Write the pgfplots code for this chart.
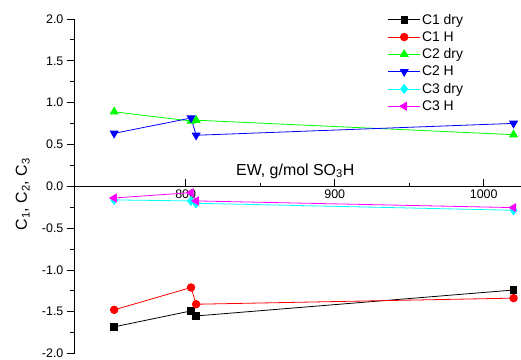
\documentclass[border=0pt]{standalone}
\usepackage{fontspec}
\setmainfont{Liberation Sans}
\usepackage{pgfplots}
\pgfplotsset{compat=1.18}
\definecolor{pcyan}{RGB}{0,255,255}
\definecolor{pmagenta}{RGB}{255,0,255}
\definecolor{pgreen}{RGB}{0,255,0}
\definecolor{pred}{RGB}{255,0,0}
\definecolor{pblue}{RGB}{0,0,255}

\begin{document}
\begin{tikzpicture}
\begin{axis}[
  scale only axis,
  width=447.6bp, height=335bp,
  xmin=725, xmax=1025,
  ymin=-2, ymax=2,
  axis x line*=middle,
  axis y line*=left,
  axis line style={line width=0.8pt},
  xtick={800,900,1000},
  xticklabels={800,900,1000},
  minor x tick num=1,
  ytick={-2,-1.5,-1,-0.5,0,0.5,1,1.5,2},
  yticklabels={-2.0,-1.5,-1.0,-0.5,0.0,0.5,1.0,1.5,2.0},
  minor y tick num=1,
  xtick align=inside,
  ytick align=outside,
  major tick length=7bp,
  minor tick length=3.5bp,
  tick style={line width=0.8pt, black},
  tick label style={font=\fontsize{12.5}{14}\selectfont},
  xlabel={EW, g/mol SO\textsubscript{3}H},
  xlabel style={font=\fontsize{16}{18}\selectfont, at={(axis description cs:0.495,0.533)}, anchor=base},
  ylabel={C\textsubscript{1}, C\textsubscript{2}, C\textsubscript{3}},
  ylabel style={font=\fontsize{16}{18}\selectfont, at={(axis description cs:-0.105,0.476)}, anchor=base, rotate=0},
  legend cell align=left,
  legend style={draw=none, fill=none, at={(axis description cs:0.695,1.026)}, anchor=north west,
    font=\fontsize{14}{16}\selectfont, row sep=2.9bp,
    nodes={inner sep=1.5bp}},
  legend image code/.code={
    \draw[#1,mark=none] (0bp,0bp) -- (32bp,0bp);
    \draw[#1,only marks] plot coordinates {(16bp,0bp)};
  },
  every axis plot/.append style={line width=0.8pt},
]
% C1
\addplot[black, mark=square*, mark size=3.3bp] coordinates {(752,-1.68) (803.6,-1.49) (807,-1.55) (1020,-1.24)};
\addlegendentry{C1 dry}
\addplot[pred, mark=*, mark size=3.8bp] coordinates {(752,-1.477) (803.6,-1.21) (807,-1.41) (1020,-1.337)};
\addlegendentry{C1 H}
% C2
\addplot[pgreen, mark=triangle*, mark size=4.5bp] coordinates {(752,0.89) (803.6,0.78) (807,0.79) (1020,0.617)};
\addlegendentry{C2 dry}
\addplot[pblue, mark=triangle*, mark options={rotate=180}, mark size=4.5bp] coordinates {(752,0.633) (803.6,0.816) (807,0.61) (1020,0.752)};
\addlegendentry{C2 H}
% C3
\addplot[pcyan, mark=diamond*, mark size=4.5bp] coordinates {(752,-0.163) (803.6,-0.175) (807,-0.203) (1020,-0.287)};
\addlegendentry{C3 dry}
\addplot[pmagenta, mark=triangle*, mark options={rotate=90}, mark size=4.5bp] coordinates {(752,-0.14) (803.6,-0.076) (807,-0.175) (1020,-0.255)};
\addlegendentry{C3 H}
\end{axis}
\pgfresetboundingbox
\path[use as bounding box] (-74bp,-6bp) rectangle (447.6bp,354bp);
\end{tikzpicture}
\end{document}
